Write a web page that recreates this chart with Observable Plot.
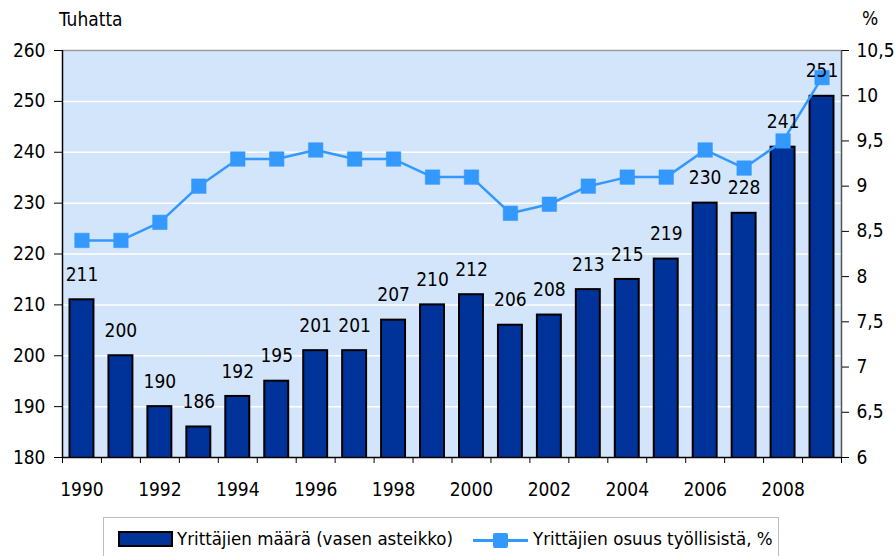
<!DOCTYPE html>
<html>
<head>
<meta charset="utf-8">
<script src="https://cdn.jsdelivr.net/npm/d3@7"></script>
<script src="https://cdn.jsdelivr.net/npm/@observablehq/plot@0.6"></script>
<style>
  html, body { margin: 0; padding: 0; background: #fff; }
  #wrap { position: relative; width: 895px; height: 556px; overflow: hidden;
    font-family: "Liberation Sans Narrow", "DejaVu Sans Condensed", Roboto, sans-serif; color: #000; }
  #wrap svg { display: block; }
  .lbl { position: absolute; font-size: 19px; line-height: 1; }
  #legend { position: absolute; left: 103px; top: 517px; width: 676px; height: 60px;
    border: 1px solid #bdbdbd; box-sizing: border-box; background: #fff; font-size: 18.5px; }
  #legend .sw1 { position: absolute; left: 14px; top: 13px; width: 51px; height: 12px;
    background: #003399; border: 2px solid #000; }
  #legend .t1 { position: absolute; left: 73px; top: 10px; white-space: nowrap; }
  #legend .ln { position: absolute; left: 369px; top: 21px; width: 55px; height: 3px; background: #3399FF; }
  #legend .mk { position: absolute; left: 389px; top: 15px; width: 15px; height: 15px; background: #3399FF; border-radius: 2px; }
  #legend .t2 { position: absolute; left: 429px; top: 10px; white-space: nowrap; }
</style>
</head>
<body>
<div id="wrap">
  <div class="lbl" style="left:59px; top:10px;">Tuhatta</div>
  <div class="lbl" style="left:862px; top:9px;">%</div>
  <div id="chart"></div>
  <div id="legend">
    <div class="sw1"></div><div class="t1">Yrittäjien määrä (vasen asteikko)</div>
    <div class="ln"></div><div class="mk"></div><div class="t2">Yrittäjien osuus työllisistä, %</div>
  </div>
</div>
<script>
const years = [1990,1991,1992,1993,1994,1995,1996,1997,1998,1999,2000,2001,2002,2003,2004,2005,2006,2007,2008,2009];
const counts = [211,200,190,186,192,195,201,201,207,210,212,206,208,213,215,219,230,228,241,251];
const shares = [8.4,8.4,8.6,9.0,9.3,9.3,9.4,9.3,9.3,9.1,9.1,8.7,8.8,9.0,9.1,9.1,9.4,9.2,9.5,10.2];
const leftTicks = [180,190,200,210,220,230,240,250,260];
const rightTicks = [6,6.5,7,7.5,8,8.5,9,9.5,10,10.5];
const yearLabels = [1990,1992,1994,1996,1998,2000,2002,2004,2006,2008];

const leftDomain = [180, 260];
const rightDomain = [6, 10.5];
const toLeft = v => leftDomain[0] + (v - rightDomain[0]) * (leftDomain[1] - leftDomain[0]) / (rightDomain[1] - rightDomain[0]);
const fromLeft = v => rightDomain[0] + (v - leftDomain[0]) * (rightDomain[1] - rightDomain[0]) / (leftDomain[1] - leftDomain[0]);
const fmtPct = v => String(Math.round(v * 10) / 10).replace(".", ",");

const data = years.map((year, i) => ({year, count: counts[i], share: shares[i]}));
const boundaries = years.map(y => y - 0.5).concat([years[years.length - 1] + 0.5]);
const xDomain = [boundaries[0], boundaries[boundaries.length - 1]];

const chart = Plot.plot({
  width: 895,
  height: 514,
  marginLeft: 62,
  marginRight: 54,
  marginTop: 50,
  marginBottom: 57,
  style: {fontFamily: "'Liberation Sans Narrow', 'DejaVu Sans Condensed', Roboto, sans-serif", fontSize: "19px", color: "#000", background: "transparent", overflow: "visible"},
  x: {domain: xDomain, label: null},
  y: {domain: leftDomain, label: null},
  marks: [
    Plot.frame({fill: "#D3E5FB", stroke: null}),
    Plot.gridY(leftTicks, {stroke: "#fff", strokeOpacity: 1, strokeWidth: 1.5}),
    Plot.ruleY([leftDomain[1]], {stroke: "#9a9a9a", strokeWidth: 1.5}),
    Plot.rectY(data, {x1: d => d.year - 0.5, x2: d => d.year + 0.5, y: "count", insetLeft: 7.5, insetRight: 7.5,
      fill: "#003399", stroke: "#000", strokeWidth: 2, clip: true}),
    Plot.ruleX([xDomain[0]], {stroke: "#000", strokeWidth: 1.5}),
    Plot.ruleX([xDomain[1]], {stroke: "#555", strokeWidth: 1.5}),
    Plot.ruleY([leftDomain[0]], {stroke: "#000", strokeWidth: 1.5}),
    Plot.axisY(leftTicks, {anchor: "left", label: null, tickSize: 8, tickPadding: 9, tickFormat: d => String(d), stroke: "#000"}),
    Plot.axisY(rightTicks.map(toLeft), {anchor: "right", label: null, tickSize: 7, tickPadding: 8, tickFormat: d => fmtPct(fromLeft(d)), stroke: "#000"}),
    Plot.axisX(boundaries, {anchor: "bottom", label: null, tickSize: 6, tickFormat: () => "", stroke: "#000"}),
    Plot.axisX(yearLabels, {anchor: "bottom", label: null, tickSize: 0, tickPadding: 25, tickFormat: d => String(d)}),
    Plot.line(data, {x: "year", y: d => toLeft(d.share), stroke: "#3399FF", strokeWidth: 2.5}),
    Plot.dot(data, {x: "year", y: d => toLeft(d.share), symbol: "square", r: 8.2, fill: "#3399FF", stroke: "#3399FF", strokeWidth: 0.5}),
    Plot.text(data, {x: "year", y: "count", text: d => String(d.count), dy: -25, fontSize: 19, fill: "#000"})
  ]
});
document.getElementById("chart").appendChild(chart);
</script>
</body>
</html>
